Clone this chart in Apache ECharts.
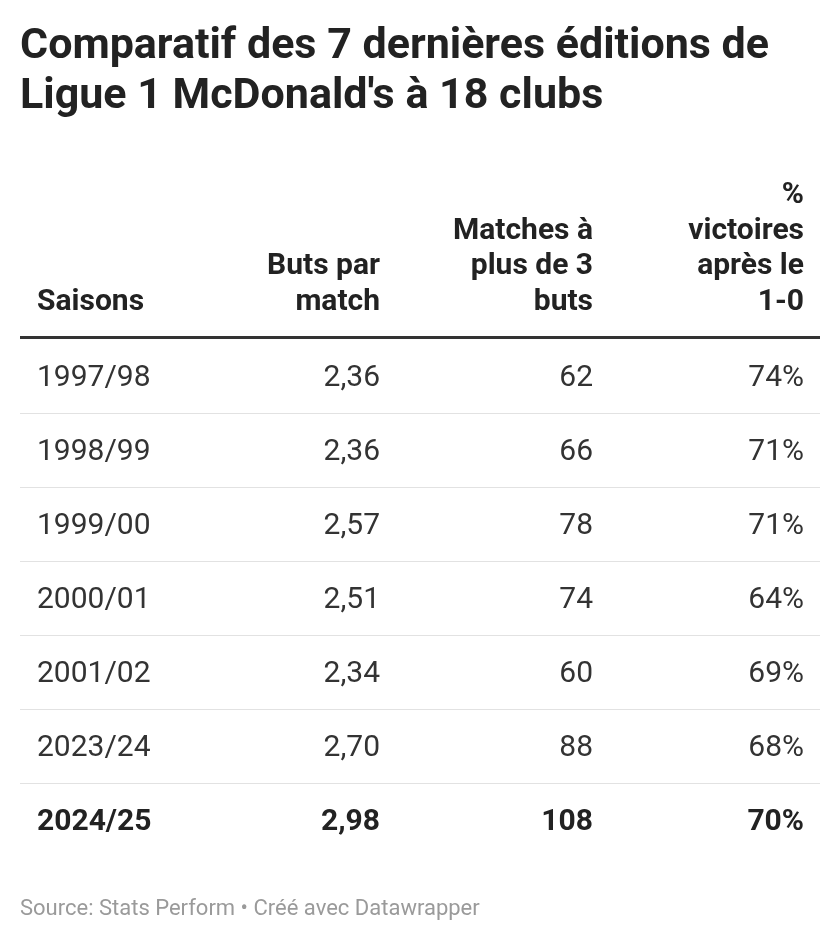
<!DOCTYPE html>
<html lang="fr">
<head>
<meta charset="UTF-8">
<title>Ligue 1</title>
<script src="https://cdn.jsdelivr.net/npm/echarts@6/dist/echarts.min.js"></script>
<style>
  html, body { margin: 0; padding: 0; background: #fff; }
  #chart { width: 840px; height: 942px; }
</style>
</head>
<body>
<div id="chart"></div>
<script>
var titleLines = ['Comparatif des 7 dernières éditions de', 'Ligue 1 McDonald\'s à 18 clubs'];
var headers = [['Saisons'], ['Buts par', 'match'], ['Matches à', 'plus de 3', 'buts'], ['%', 'victoires', 'après le', '1-0']];
var saisons = ['1997/98', '1998/99', '1999/00', '2000/01', '2001/02', '2023/24', '2024/25'];
var butsParMatch = ['2,36', '2,36', '2,57', '2,51', '2,34', '2,70', '2,98'];
var matchesPlus3 = ['62', '66', '78', '74', '60', '88', '108'];
var victoires10 = ['74%', '71%', '71%', '64%', '69%', '68%', '70%'];
var source = 'Source: Stats Perform • Créé avec Datawrapper';

var font = 'Roboto, "Noto Sans", sans-serif';
var colX = [37, 380, 593, 804];
var colAlign = ['left', 'right', 'right', 'right'];
var els = [];

titleLines.forEach(function (t, i) {
    els.push({ type: 'text', x: 20, y: 47 + i * 50,
        style: { text: t, font: 'bold 43px ' + font, fill: '#222', verticalAlign: 'middle' } });
});

headers.forEach(function (lines, c) {
    var n = lines.length;
    lines.forEach(function (t, i) {
        els.push({ type: 'text', x: colX[c], y: 302 - (n - 1 - i) * 35.5,
            style: { text: t, font: 'bold 30px ' + font, fill: '#222',
                align: colAlign[c], verticalAlign: 'middle' } });
    });
});

els.push({ type: 'rect', shape: { x: 20, y: 336, width: 800, height: 3 }, style: { fill: '#333' } });

var cols = [saisons, butsParMatch, matchesPlus3, victoires10];
saisons.forEach(function (s, r) {
    var y = 378 + r * 74;
    var last = r === saisons.length - 1;
    cols.forEach(function (arr, c) {
        els.push({ type: 'text', x: colX[c], y: y,
            style: { text: arr[r], font: (last ? 'bold ' : '') + '30px ' + font,
                fill: last ? '#222' : '#333', align: colAlign[c], verticalAlign: 'middle' } });
    });
    if (!last) {
        els.push({ type: 'rect', shape: { x: 20, y: y + 35, width: 800, height: 1 }, style: { fill: '#e2e2e2' } });
    }
});

els.push({ type: 'text', x: 20, y: 909,
    style: { text: source, font: '22px ' + font, fill: '#9a9a9a', verticalAlign: 'middle' } });

var chart = echarts.init(document.getElementById('chart'));
chart.setOption({ animation: false, graphic: els });
</script>
</body>
</html>
